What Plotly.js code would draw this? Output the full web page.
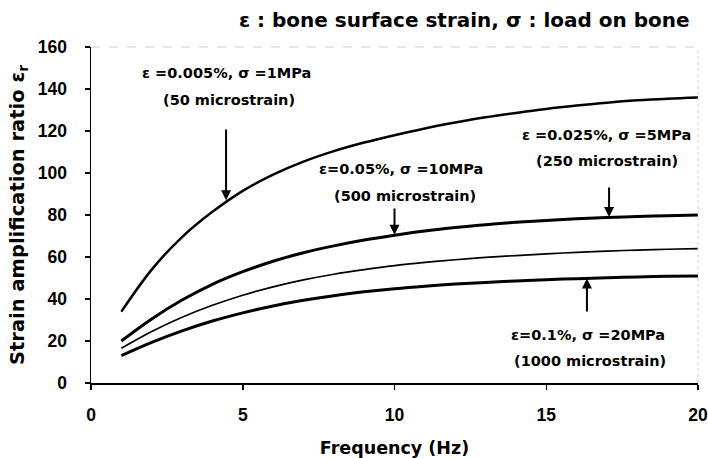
<!DOCTYPE html>
<html>
<head>
<meta charset="utf-8">
<script src="https://cdn.plot.ly/plotly-3.0.1.min.js"></script>
<style>html,body{margin:0;padding:0;background:#fff;}#chart{width:708px;height:458px;}</style>
</head>
<body>
<div id="chart"></div>
<script>
// Frequency (Hz)
const freq = [1, 2, 3, 4, 5, 6, 7, 8, 9, 10, 11, 12, 13, 14, 15, 16, 17, 18, 19, 20];
// Strain amplification ratio for each loading case
const strain005 = [34, 54, 69.5, 81.5, 91.5, 99.2, 105.4, 110.4, 114.5, 118, 121.2, 124, 126.5, 128.6, 130.5, 132.1, 133.5, 134.6, 135.4, 136];
const strain05  = [20, 30.5, 39.5, 47, 53, 58, 62, 65.3, 68.1, 70.4, 72.4, 74, 75.4, 76.5, 77.4, 78.2, 78.8, 79.3, 79.7, 80];
const strain025 = [16.5, 24.5, 31.3, 37, 41.8, 45.8, 49.1, 51.8, 54, 55.9, 57.4, 58.7, 59.8, 60.7, 61.5, 62.2, 62.8, 63.3, 63.7, 64];
const strain1   = [13, 19.3, 24.8, 29.5, 33.4, 36.7, 39.4, 41.6, 43.4, 44.9, 46.1, 47.1, 47.9, 48.6, 49.2, 49.7, 50.1, 50.5, 50.8, 51];

const xTicks = [0, 5, 10, 15, 20];
const yTicks = [0, 20, 40, 60, 80, 100, 120, 140, 160];

// annotation labels: [text, x, y]
const labels = [
  ["\u03b5 =0.005%, \u03c3 =1MPa", 4.48, 147.6],
  ["(50 microstrain)", 4.55, 134.8],
  ["\u03b5=0.05%, \u03c3 =10MPa", 10.21, 101.9],
  ["(500 microstrain)", 10.34, 89.0],
  ["\u03b5 =0.025%, \u03c3 =5MPa", 16.97, 118.1],
  ["(250 microstrain)", 17.0, 105.7],
  ["\u03b5=0.1%, \u03c3 =20MPa", 16.38, 22.9],
  ["(1000 microstrain)", 16.44, 10.5]
];
// arrows: [x, tailY, tipY]
const arrows = [
  [4.45, 121.4, 87.0],
  [10.0, 83.8, 70.6],
  [17.07, 93.8, 79.0],
  [16.34, 33.3, 49.8]
];

const mk = (y, w) => ({x: freq, y: y, type: 'scatter', mode: 'lines',
  line: {color: '#000', width: w, shape: 'spline', smoothing: 1}, hoverinfo: 'skip'});

const traces = [mk(strain005, 2.5), mk(strain05, 3), mk(strain025, 1.7), mk(strain1, 3)];

const annFont = {family: 'DejaVu Sans, Verdana, sans-serif', size: 14.5, color: '#000'};
const annotations = labels.map(l => ({x: l[1], y: l[2], xref: 'x', yref: 'y', text: '<b>' + l[0] + '</b>',
  showarrow: false, font: annFont, xanchor: 'center', yanchor: 'middle'}));
arrows.forEach(a => annotations.push({x: a[0], y: a[2], ax: a[0], ay: a[1], axref: 'x', ayref: 'y',
  xref: 'x', yref: 'y', text: '', showarrow: true, arrowhead: 2, arrowsize: 1, arrowwidth: 2, arrowcolor: '#000'}));

const tickFont = {family: 'Liberation Sans, Arial, sans-serif', size: 17.5, color: '#000', weight: 'bold'};

const layout = {
  width: 708, height: 458,
  margin: {l: 91, r: 10, t: 47, b: 75},
  paper_bgcolor: '#fff', plot_bgcolor: '#fff',
  showlegend: false,
  title: {text: '<b>\u03b5 : bone surface strain, \u03c3 : load on bone</b>',
    font: {family: 'DejaVu Sans, Verdana, sans-serif', size: 20, color: '#000'},
    xref: 'container', x: 0.974, xanchor: 'right', yref: 'container', y: 0.956, yanchor: 'middle'},
  xaxis: {range: [0, 20], tickvals: xTicks, ticktext: xTicks.map(v => '<b>' + v + '</b>'), showgrid: false, zeroline: false,
    showline: true, linecolor: '#000', linewidth: 1.5, ticks: 'outside', ticklen: 5, tickwidth: 1.5, tickcolor: '#000',
    tickfont: tickFont, ticklabelstandoff: 10,
    title: {text: '<b>Frequency (Hz)</b>', font: {family: 'DejaVu Sans, Verdana, sans-serif', size: 17.5, color: '#000'}, standoff: 19}},
  yaxis: {range: [0, 160], tickvals: yTicks, ticktext: yTicks.map(v => '<b>' + v + '</b>'), showgrid: false, zeroline: false,
    showline: true, linecolor: '#000', linewidth: 1.5, ticks: 'outside', ticklen: 5, tickwidth: 1.5, tickcolor: '#000',
    tickfont: tickFont, ticklabelstandoff: 14,
    title: {text: '<b>Strain amplification ratio \u03b5<sub>r</sub></b>', font: {family: 'DejaVu Sans, Verdana, sans-serif', size: 19.5, color: '#000'}, standoff: 8}},
  shapes: [
    {type: 'line', xref: 'paper', yref: 'paper', x0: 0, x1: 1, y0: 1, y1: 1, line: {color: '#d0d0d0', width: 1, dash: 'dash'}},
    {type: 'line', xref: 'paper', yref: 'paper', x0: 1, x1: 1, y0: 0, y1: 1, line: {color: '#d0d0d0', width: 1, dash: 'dot'}}
  ],
  annotations: annotations
};

Plotly.newPlot('chart', traces, layout, {displayModeBar: false, staticPlot: true});
</script>
</body>
</html>
